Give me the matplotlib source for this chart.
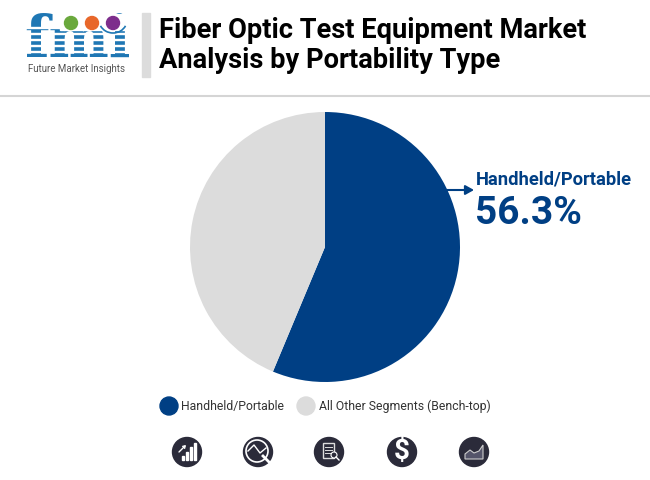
import matplotlib
matplotlib.use("Agg")
import matplotlib.pyplot as plt
from matplotlib.patches import Arc, Circle, Polygon, Rectangle

plt.rcParams['font.family'] = ['Roboto', 'DejaVu Sans']

labels = ["Handheld/Portable", "All Other Segments (Bench-top)"]
values = [56.3, 43.7]
colors = ["#003f84", "#dcdcdc"]
title_lines = ["Fiber Optic Test Equipment Market", "Analysis by Portability Type"]
icon_x = [187, 258, 329, 402, 474]

fig = plt.figure(figsize=(6.5, 4.8), dpi=100, facecolor="white")

# overlay in pixel coords for header, legend, icons
bg = fig.add_axes([0, 0, 1, 1])
bg.set_xlim(0, 650)
bg.set_ylim(480, 0)
bg.axis("off")

# logo
bg.text(77, 57, "fmi", color="#1f77b4", fontsize=41, fontweight="bold", family="DejaVu Serif",
        ha="center", va="baseline", path_effects=None)
for y in [27, 33, 39, 45, 51]:
    bg.add_patch(Rectangle((24, y), 106, 0.7, color="white", zorder=3))
bg.add_patch(Rectangle((60, 14), 70, 16, color="white", zorder=3))
for x, c in zip([71, 92, 113], ["#6aa83c", "#e8672a", "#7d2d8c"]):
    bg.add_patch(Circle((x, 23), 6.5, color=c, zorder=4))
bg.add_patch(Arc((113, 20), 28, 26, theta1=25, theta2=155, color="#1f77b4", lw=1.2, zorder=4))
bg.text(76, 68.5, "Future Market Insights", color="#555555", fontsize=7.0, ha="center", va="center")

# header
bg.add_patch(Rectangle((142, 13), 8, 64, color="#dcdcdc"))
bg.text(159, 31, title_lines[0], fontsize=19.6, fontweight="bold", color="black", va="center")
bg.text(159, 61, title_lines[1], fontsize=19.6, fontweight="bold", color="black", va="center")
bg.plot([0, 650], [95.5, 95.5], color="#d5d5d5", lw=1.5)

# pie
ax = fig.add_axes([190 / 650, (480 - 382) / 480, 270 / 650, 270 / 480])
ax.pie(values, colors=colors, startangle=90, counterclock=False, radius=1)
ax.set_xlim(-1, 1)
ax.set_ylim(-1, 1)

# callout
bg.annotate("", xy=(474, 190), xytext=(447, 190),
            arrowprops=dict(arrowstyle="-|>,head_length=0.5,head_width=0.28", color=colors[0], lw=1.5,
                            shrinkA=0, shrinkB=0))
bg.text(476, 180, labels[0], fontsize=13.2, fontweight="bold", color=colors[0], va="center")
bg.text(475, 213, "56.3%", fontsize=28, fontweight="bold", color=colors[0], va="center")

# legend
bg.add_patch(Circle((169, 406), 9, color=colors[0]))
bg.text(181, 406.5, labels[0], fontsize=8.85, color="#333333", va="center")
bg.add_patch(Circle((306, 406), 9, color=colors[1]))
bg.text(319, 406.5, labels[1], fontsize=8.85, color="#333333", va="center")

# icon row
for x in icon_x:
    bg.add_patch(Circle((x, 452), 14.5, color="#2b2b3a"))

# bars with arrow
for dx, h in zip([-5, -1, 3, 7], [4, 8, 13, 17]):
    bg.add_patch(Rectangle((187 + dx, 460 - h), 2.2, h, color="white", zorder=3))
bg.annotate("", xy=(186, 445), xytext=(179, 452),
            arrowprops=dict(arrowstyle="->,head_length=0.15,head_width=0.1", color="white", lw=1,
                            shrinkA=0, shrinkB=0), zorder=3)

# chart lens
bg.add_patch(Circle((257, 451), 11, fill=False, ec="white", lw=1.2, zorder=3))
bg.plot([248, 254, 260, 266], [451, 445, 453, 448], color="white", lw=1, zorder=3)
bg.plot([263, 271], [456, 464], color="white", lw=2, zorder=3)

# document and small lens
bg.add_patch(Rectangle((323, 443), 11, 15, fill=False, ec="#dddddd", lw=1, zorder=3))
for y in [447, 450, 453]:
    bg.plot([325, 332], [y, y], color="#dddddd", lw=0.7, zorder=3)
bg.add_patch(Circle((334, 455), 3, fc="#2b2b3a", ec="white", lw=0.8, zorder=4))
bg.plot([336, 339], [457, 460], color="white", lw=1, zorder=4)

bg.text(402, 452, "$", color="white", fontsize=20, fontweight="bold", ha="center", va="center", zorder=3)

# area chart
bg.add_patch(Polygon([(465, 459), (465, 454), (470, 450), (474, 453), (479, 451), (483, 445), (483, 459)],
                     closed=True, fc="#55556a", ec="#cccccc", lw=0.8, zorder=3))

fig.savefig("out.png", dpi=100)
